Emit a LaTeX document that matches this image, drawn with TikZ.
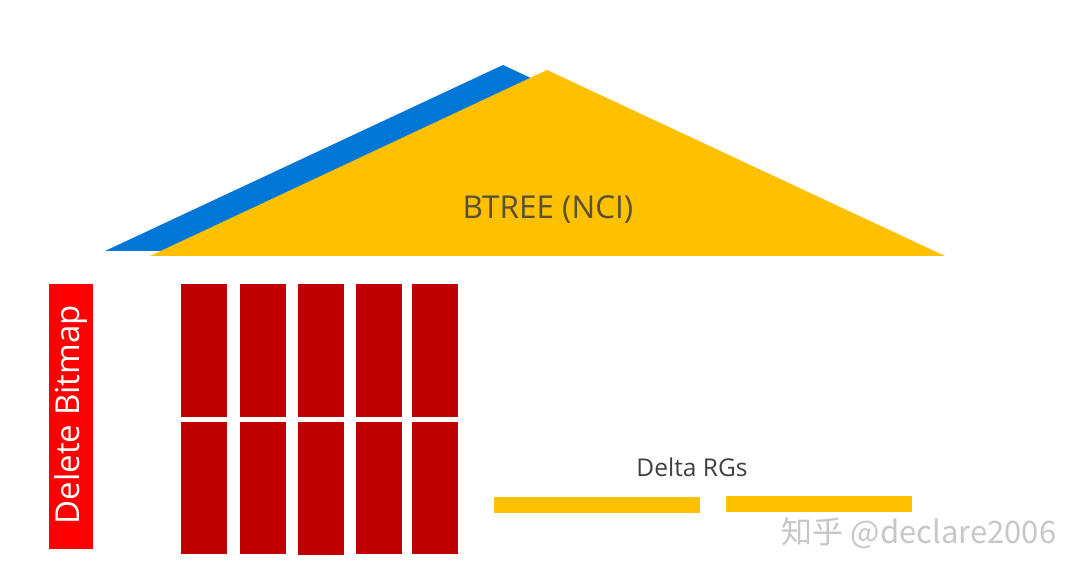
\documentclass[tikz,border=0pt]{standalone}
\usepackage{fontspec}
\setmainfont{Open Sans}
\newfontfamily\cjk{Noto Sans CJK SC}
\definecolor{treeblue}{RGB}{0,118,214}
\definecolor{treeyellow}{RGB}{255,192,0}
\definecolor{rgred}{RGB}{192,0,0}
\definecolor{bitred}{RGB}{255,0,0}
\definecolor{labelgray}{RGB}{64,64,64}
\definecolor{btreetext}{RGB}{88,80,52}

\begin{document}
\begin{tikzpicture}[x=1pt, y=-1pt,
    rowgroup/.style={fill=rgred, inner sep=0pt, minimum width=46pt, anchor=north west},
    deltarg/.style={fill=treeyellow, inner sep=0pt, minimum height=16pt, anchor=north west},
    bitmap/.style={fill=bitred, inner sep=0pt, minimum width=44pt, minimum height=265pt, anchor=north west}]
        \useasboundingbox (0,0) rectangle (1089,577);
        % btree: blue copy sits behind the yellow one
        \fill[treeblue] (503,65) -- (105,251) -- (901,251) -- cycle;
        \fill[treeyellow] (547,70) -- (150,256) -- (945,256) -- cycle;
        \node[text=btreetext, font=\fontsize{31.5}{31.5}\selectfont] (btree) at (548,210) {BTREE (NCI)};
        % delete bitmap
        \node[bitmap] (bitmap) at (49,284) {};
        \node[text=white, rotate=90, font=\fontsize{33}{33}\selectfont] (bitmaplabel) at ([yshift=2pt]bitmap.center) {Delete Bitmap};
        % compressed row groups
        \foreach \x/\h [count=\i] in {181/132,240/132,298/133,356/132,412/132} {
          \node[rowgroup, minimum height=133pt] (rgtop\i) at (\x,284) {};
          \node[rowgroup, minimum height=\h pt] (rgbot\i) at (\x,422) {};
        }
        % delta row groups
        \node[text=labelgray, font=\fontsize{24.5}{24.5}\selectfont] (deltalabel) at (692,467) {Delta RGs};
        \node[deltarg, minimum width=206pt] (delta1) at (494,497) {};
        \node[deltarg, minimum width=186pt] (delta2) at (726,496) {};
        \node[text=black!22, font=\cjk\fontsize{31}{31}\selectfont] (mark) at (919,533) {知乎 @declare2006};
      \end{tikzpicture}
\end{document}
